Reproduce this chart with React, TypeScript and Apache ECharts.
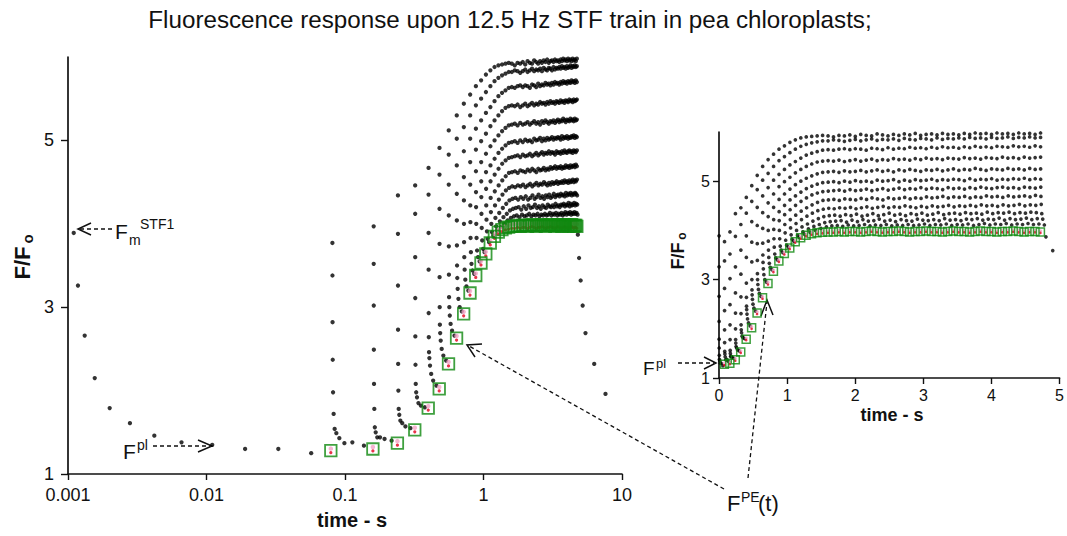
import React, { useEffect, useRef } from "react";
import * as echarts from "echarts";

// ---- data ----
const flashTimes = [0.001, 0.081, 0.161, 0.241, 0.321, 0.401, 0.481, 0.561, 0.641, 0.721, 0.801, 0.881, 0.961, 1.041, 1.121, 1.201, 1.281, 1.361, 1.441, 1.521, 1.601, 1.681, 1.761, 1.841, 1.921, 2.001, 2.081, 2.161, 2.241, 2.321, 2.401, 2.481, 2.561, 2.641, 2.721, 2.801, 2.881, 2.961, 3.041, 3.121, 3.201, 3.281, 3.361, 3.441, 3.521, 3.601, 3.681, 3.761, 3.841, 3.921, 4.001, 4.081, 4.161, 4.241, 4.321, 4.401, 4.481, 4.561, 4.641, 4.721];

const sampleDelays = [0.0001, 0.00018, 0.00032, 0.00056, 0.001, 0.0018, 0.0032, 0.0056, 0.01, 0.018, 0.032, 0.056];

// F/Fo sampled after each flash (one row per flash, one column per delay)
const flashResponses = [
  [3.89, 3.26, 2.66, 2.15, 1.79, 1.61, 1.46, 1.38, 1.35, 1.30, 1.30, 1.25],
  [3.77, 3.38, 2.82, 2.37, 1.98, 1.72, 1.54, 1.49, 1.43, 1.37, 1.38, 1.34],
  [3.97, 3.52, 3.02, 2.49, 2.08, 1.78, 1.56, 1.50, 1.44, 1.44, 1.42, 1.40],
  [4.34, 3.88, 3.26, 2.73, 2.32, 2.00, 1.78, 1.71, 1.64, 1.61, 1.57, 1.55],
  [4.46, 4.12, 3.60, 3.11, 2.65, 2.31, 2.08, 1.98, 1.92, 1.85, 1.82, 1.80],
  [4.67, 4.35, 3.89, 3.45, 2.93, 2.64, 2.46, 2.39, 2.30, 2.20, 2.12, 2.06],
  [4.91, 4.59, 4.18, 3.76, 3.36, 3.00, 2.79, 2.69, 2.60, 2.50, 2.42, 2.36],
  [5.12, 4.83, 4.47, 4.10, 3.73, 3.39, 3.12, 3.00, 2.90, 2.80, 2.72, 2.66],
  [5.30, 5.02, 4.70, 4.36, 4.04, 3.74, 3.50, 3.35, 3.22, 3.10, 3.00, 2.95],
  [5.44, 5.16, 4.87, 4.56, 4.28, 4.00, 3.78, 3.60, 3.45, 3.33, 3.25, 3.20],
  [5.55, 5.30, 5.02, 4.74, 4.47, 4.22, 4.02, 3.83, 3.66, 3.52, 3.44, 3.40],
  [5.65, 5.42, 5.14, 4.89, 4.63, 4.38, 4.20, 4.00, 3.83, 3.68, 3.60, 3.55],
  [5.72, 5.50, 5.24, 4.99, 4.74, 4.51, 4.32, 4.12, 3.95, 3.80, 3.70, 3.66],
  [5.79, 5.58, 5.33, 5.08, 4.84, 4.62, 4.42, 4.22, 4.05, 3.91, 3.82, 3.78],
  [5.84, 5.65, 5.40, 5.17, 4.93, 4.70, 4.51, 4.31, 4.14, 4.00, 3.90, 3.86],
  [5.88, 5.71, 5.47, 5.24, 5.00, 4.78, 4.59, 4.39, 4.22, 4.07, 3.97, 3.92],
  [5.90, 5.75, 5.53, 5.30, 5.06, 4.85, 4.66, 4.46, 4.29, 4.13, 4.03, 3.96],
  [5.91, 5.78, 5.57, 5.35, 5.11, 4.90, 4.72, 4.52, 4.35, 4.19, 4.08, 4.00],
  [5.92, 5.80, 5.60, 5.39, 5.15, 4.94, 4.76, 4.57, 4.40, 4.24, 4.12, 4.04],
  [5.93, 5.82, 5.63, 5.41, 5.18, 4.97, 4.79, 4.61, 4.43, 4.28, 4.16, 4.07],
  [5.92, 5.82, 5.64, 5.42, 5.19, 4.98, 4.80, 4.62, 4.45, 4.30, 4.18, 4.09],
  [5.90, 5.84, 5.63, 5.41, 5.20, 4.99, 4.81, 4.63, 4.44, 4.31, 4.19, 4.10],
  [5.93, 5.83, 5.65, 5.43, 5.18, 4.97, 4.82, 4.61, 4.46, 4.29, 4.20, 4.08],
  [5.92, 5.81, 5.66, 5.40, 5.21, 5.00, 4.80, 4.64, 4.45, 4.32, 4.17, 4.11],
  [5.94, 5.83, 5.64, 5.42, 5.19, 4.98, 4.83, 4.63, 4.47, 4.30, 4.21, 4.09],
  [5.91, 5.85, 5.66, 5.44, 5.20, 5.01, 4.81, 4.62, 4.44, 4.33, 4.18, 4.10],
  [5.95, 5.82, 5.65, 5.41, 5.22, 4.99, 4.82, 4.65, 4.46, 4.29, 4.22, 4.12],
  [5.93, 5.84, 5.63, 5.43, 5.19, 5.00, 4.84, 4.63, 4.48, 4.31, 4.19, 4.09],
  [5.92, 5.86, 5.67, 5.45, 5.21, 4.98, 4.81, 4.66, 4.45, 4.34, 4.20, 4.11],
  [5.96, 5.83, 5.66, 5.42, 5.23, 5.02, 4.83, 4.64, 4.47, 4.30, 4.23, 4.10],
  [5.94, 5.85, 5.64, 5.44, 5.20, 5.00, 4.85, 4.62, 4.49, 4.32, 4.19, 4.12],
  [5.92, 5.84, 5.68, 5.43, 5.22, 5.01, 4.82, 4.66, 4.46, 4.35, 4.21, 4.09],
  [5.95, 5.86, 5.65, 5.46, 5.19, 5.03, 4.84, 4.64, 4.48, 4.31, 4.18, 4.11],
  [5.93, 5.83, 5.67, 5.44, 5.23, 4.99, 4.86, 4.65, 4.47, 4.33, 4.22, 4.10],
  [5.96, 5.87, 5.66, 5.45, 5.21, 5.02, 4.83, 4.67, 4.50, 4.30, 4.20, 4.12],
  [5.94, 5.85, 5.69, 5.43, 5.24, 5.00, 4.85, 4.64, 4.48, 4.34, 4.19, 4.10],
  [5.97, 5.84, 5.67, 5.46, 5.22, 5.03, 4.84, 4.66, 4.46, 4.32, 4.23, 4.11],
  [5.93, 5.87, 5.68, 5.44, 5.20, 5.01, 4.87, 4.65, 4.49, 4.35, 4.21, 4.13],
  [5.95, 5.86, 5.66, 5.47, 5.23, 5.02, 4.84, 4.68, 4.47, 4.31, 4.20, 4.10],
  [5.96, 5.84, 5.69, 5.45, 5.22, 5.04, 4.86, 4.66, 4.50, 4.33, 4.22, 4.12],
  [5.94, 5.88, 5.67, 5.46, 5.24, 5.01, 4.85, 4.67, 4.48, 4.36, 4.20, 4.11],
  [5.97, 5.85, 5.70, 5.44, 5.21, 5.03, 4.83, 4.69, 4.49, 4.32, 4.24, 4.13],
  [5.95, 5.87, 5.68, 5.47, 5.23, 5.02, 4.87, 4.66, 4.51, 4.34, 4.21, 4.10],
  [5.96, 5.86, 5.69, 5.46, 5.25, 5.04, 4.85, 4.68, 4.48, 4.35, 4.22, 4.12],
  [5.94, 5.88, 5.67, 5.45, 5.22, 5.03, 4.86, 4.67, 4.50, 4.33, 4.20, 4.11],
  [5.97, 5.86, 5.70, 5.48, 5.24, 5.01, 4.84, 4.69, 4.49, 4.36, 4.23, 4.13],
  [5.95, 5.89, 5.68, 5.46, 5.23, 5.05, 4.87, 4.66, 4.51, 4.34, 4.22, 4.10],
  [5.98, 5.87, 5.71, 5.47, 5.26, 5.02, 4.85, 4.68, 4.49, 4.35, 4.24, 4.12],
  [5.96, 5.88, 5.69, 5.45, 5.24, 5.04, 4.88, 4.67, 4.52, 4.33, 4.21, 4.14],
  [5.97, 5.86, 5.70, 5.48, 5.22, 5.03, 4.86, 4.70, 4.50, 4.37, 4.23, 4.11],
  [5.95, 5.89, 5.68, 5.47, 5.25, 5.05, 4.85, 4.68, 4.51, 4.34, 4.22, 4.13],
  [5.98, 5.87, 5.71, 5.46, 5.24, 5.02, 4.87, 4.69, 4.49, 4.36, 4.25, 4.12],
  [5.96, 5.88, 5.70, 5.49, 5.23, 5.04, 4.88, 4.67, 4.52, 4.35, 4.21, 4.14],
  [5.97, 5.90, 5.69, 5.47, 5.26, 5.03, 4.86, 4.70, 4.50, 4.37, 4.24, 4.11],
  [5.95, 5.87, 5.72, 5.48, 5.24, 5.05, 4.87, 4.68, 4.51, 4.34, 4.22, 4.13],
  [5.98, 5.89, 5.70, 5.46, 5.25, 5.04, 4.85, 4.69, 4.53, 4.36, 4.23, 4.12],
  [5.96, 5.88, 5.71, 5.49, 5.23, 5.06, 4.88, 4.70, 4.50, 4.35, 4.25, 4.14],
  [5.97, 5.90, 5.69, 5.47, 5.26, 5.03, 4.87, 4.68, 4.52, 4.37, 4.22, 4.12],
  [5.95, 5.88, 5.72, 5.48, 5.24, 5.05, 4.86, 4.71, 4.51, 4.36, 4.24, 4.13],
  [5.98, 5.89, 5.70, 5.49, 5.25, 5.04, 4.88, 4.69, 4.53, 4.34, 4.23, 4.11],
];

// F^PE(t): level just before each flash (green squares)
const preFlashTimes = [0.079, 0.159, 0.239, 0.319, 0.399, 0.479, 0.559, 0.639, 0.719, 0.799, 0.879, 0.959, 1.039, 1.119, 1.199, 1.279, 1.359, 1.439, 1.519, 1.599, 1.679, 1.759, 1.839, 1.919, 1.999, 2.079, 2.159, 2.239, 2.319, 2.399, 2.479, 2.559, 2.639, 2.719, 2.799, 2.879, 2.959, 3.039, 3.119, 3.199, 3.279, 3.359, 3.439, 3.519, 3.599, 3.679, 3.759, 3.839, 3.919, 3.999, 4.079, 4.159, 4.239, 4.319, 4.399, 4.479, 4.559, 4.639, 4.719];
const preFlashValues = [1.28, 1.30, 1.37, 1.53, 1.79, 2.02, 2.32, 2.63, 2.92, 3.17, 3.38, 3.53, 3.64, 3.77, 3.85, 3.90, 3.93, 3.95, 3.96, 3.97,
  3.97, 3.98, 3.97, 3.98, 3.98, 3.97, 3.98, 3.99, 3.98, 3.97,
  3.98, 3.98, 3.99, 3.98, 3.97, 3.98, 3.98, 3.99, 3.98, 3.98,
  3.97, 3.98, 3.99, 3.98, 3.98, 3.97, 3.98, 3.99, 3.98, 3.98,
  3.97, 3.98, 3.98, 3.99, 3.98, 3.97, 3.98, 3.98, 3.97];

// dark relaxation after the train
const afterTrainTimes = [4.8, 4.9, 5.03, 5.2, 5.45, 6.3, 7.6];
const afterTrainValues = [3.87, 3.59, 3.32, 3.02, 2.69, 2.32, 1.96];

const yTicks = [1, 3, 5];
const logTicks = [0.001, 0.01, 0.1, 1, 10];

const FONT = "'Liberation Sans', Arial, Helvetica, sans-serif";

function buildOption() {
  const dots: number[][] = [];
  flashTimes.forEach((t, n) =>
    sampleDelays.forEach((d, k) => dots.push([t + d, flashResponses[n][k]]))
  );
  afterTrainTimes.forEach((t, i) => dots.push([t, afterTrainValues[i]]));
  const pre = preFlashTimes.map((t, i) => [t, preFlashValues[i]]);

  const series: any[] = [];
  [0, 1].forEach((g) => {
    const small = g === 1;
    series.push({
      type: "scatter", xAxisIndex: g, yAxisIndex: g, data: dots, silent: true,
      symbol: "circle", symbolSize: small ? 3.7 : 4.3, itemStyle: { color: "#000" }, clip: true,
    });
    series.push({
      type: "scatter", xAxisIndex: g, yAxisIndex: g, data: pre, silent: true,
      symbol: "circle", symbolSize: small ? 3.4 : 4.5, symbolOffset: [0, small ? -1 : -2],
      itemStyle: { color: "#f3a2c6" }, clip: true,
    });
    series.push({
      type: "scatter", xAxisIndex: g, yAxisIndex: g, data: pre, silent: true,
      symbol: "circle", symbolSize: small ? 2.6 : 3.2, symbolOffset: [0, small ? 1 : 2],
      itemStyle: { color: "#e3001b" }, clip: true,
    });
    series.push({
      type: "scatter", xAxisIndex: g, yAxisIndex: g, data: pre, silent: true,
      symbol: "rect", symbolSize: small ? 8 : 11.5,
      itemStyle: { color: "rgba(0,0,0,0)", borderColor: "#0f880f", borderWidth: small ? 1.5 : 1.8 },
      clip: true,
    });
  });

  const axisLine = { show: true, onZero: false, lineStyle: { color: "#111", width: 1.7 } };
  const tickStyle = { lineStyle: { color: "#111", width: 1.4 } };

  const text = (t: string, x: number, y: number, size: number, extra: any = {}) => ({
    type: "text", x, y, silent: true, ...extra,
    style: { text: t, fontSize: size, fontFamily: FONT, fill: "#111", align: "left", verticalAlign: "middle", ...(extra.style || {}) },
  });
  const dashed = (x1: number, y1: number, x2: number, y2: number) => ({
    type: "line", silent: true, shape: { x1, y1, x2, y2 },
    style: { stroke: "#111", lineWidth: 1.3, lineDash: [4, 3] },
  });
  const chevron = (pts: number[][]) => ({
    type: "polyline", silent: true, shape: { points: pts },
    style: { stroke: "#111", lineWidth: 1.5, fill: null },
  });

  const graphic: any[] = [
    text("Fluorescence response upon 12.5 Hz STF train in pea chloroplasts;", 510, 19, 24.2, { style: { align: "center" } }),
    // left axis names
    text("F/F", 22, 263, 22, { rotation: Math.PI / 2, style: { align: "center", fontWeight: "bold" } }),
    text("o", 27, 239, 15, { rotation: Math.PI / 2, style: { align: "center", fontWeight: "bold" } }),
    text("time - s", 352, 520, 20, { style: { align: "center", fontWeight: "bold" } }),
    // right axis names
    text("F/F", 678, 256, 18, { rotation: Math.PI / 2, style: { align: "center", fontWeight: "bold" } }),
    text("o", 682, 236, 12, { rotation: Math.PI / 2, style: { align: "center", fontWeight: "bold" } }),
    text("time - s", 892, 415, 18, { style: { align: "center", fontWeight: "bold" } }),
    // Fm STF1
    text("F", 115, 231, 21),
    text("m", 129, 240, 14),
    text("STF1", 140, 224, 14),
    dashed(80, 229, 112, 229),
    chevron([[91, 223], [78, 229], [91, 235]]),
    // F pl (left)
    text("F", 123, 451, 21),
    text("pl", 137, 445, 14),
    dashed(153, 446, 210, 446),
    chevron([[198, 440], [212, 446], [198, 452]]),
    // F pl (right)
    text("F", 643, 368, 19),
    text("pl", 656, 363, 13),
    dashed(678, 363, 714, 363),
    chevron([[704, 357], [716, 363], [704, 369]]),
    // F PE(t)
    text("F", 727, 503, 22),
    text("PE", 741, 497, 14),
    text("(t)", 758, 503, 22),
    dashed(724, 489, 469, 346),
    chevron([[482, 344], [467, 345], [475, 357]]),
    dashed(748, 478, 767, 302),
    chevron([[761, 316], [767, 300], [773, 315]]),
  ];

  return {
    animation: false,
    backgroundColor: "#fff",
    textStyle: { fontFamily: FONT },
    grid: [
      { left: 68, top: 57, width: 554, height: 417, containLabel: false },
      { left: 719, top: 132, width: 343, height: 246, containLabel: false },
    ],
    xAxis: [
      {
        type: "log", gridIndex: 0, min: 0.001, max: 10, logBase: 10,
        axisLine, axisTick: { show: true, length: 6, inside: false, ...tickStyle, customValues: logTicks },
        axisLabel: {
          fontSize: 18, color: "#111", margin: 12, fontFamily: FONT, customValues: logTicks,
          formatter: (v: number) => String(parseFloat(Number(v).toPrecision(3))),
        },
        splitLine: { show: false }, minorTick: { show: false },
      },
      {
        type: "value", gridIndex: 1, min: 0, max: 5, interval: 1,
        axisLine, axisTick: { show: true, length: 6, ...tickStyle },
        axisLabel: { fontSize: 16, color: "#111", margin: 9, fontFamily: FONT, showMaxLabel: true },
        splitLine: { show: false },
      },
    ],
    yAxis: [
      {
        type: "value", gridIndex: 0, min: 1, max: 6, interval: 2,
        axisLine, axisTick: { show: true, length: 7, ...tickStyle, customValues: yTicks },
        axisLabel: { fontSize: 18, color: "#111", margin: 14, fontFamily: FONT, customValues: yTicks },
        splitLine: { show: false },
      },
      {
        type: "value", gridIndex: 1, min: 1, max: 6, interval: 2,
        axisLine, axisTick: { show: true, length: 6, ...tickStyle, customValues: yTicks },
        axisLabel: { fontSize: 16, color: "#111", margin: 9, fontFamily: FONT, customValues: yTicks },
        splitLine: { show: false },
      },
    ],
    series,
    graphic,
  };
}

export default function App() {
  const ref = useRef<HTMLDivElement>(null);
  useEffect(() => {
    if (!ref.current) return;
    const chart = echarts.init(ref.current, undefined, { renderer: "svg" });
    chart.setOption(buildOption() as any);
    return () => chart.dispose();
  }, []);
  return (
    <div
      ref={ref}
      style={{ position: "fixed", left: 0, top: 0, width: 1067, height: 536, background: "#fff" }}
    />
  );
}
